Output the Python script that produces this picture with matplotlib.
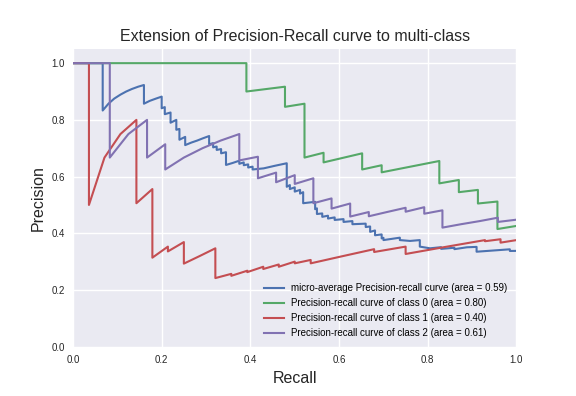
import matplotlib
matplotlib.use('Agg')
import matplotlib.pyplot as plt

# micro-average curve (recall, precision)
micro_recall = [0.0, 0.067, 0.067, 0.08, 0.093, 0.107, 0.12, 0.133, 0.147, 0.16, 0.16, 0.173, 0.187, 0.2,
                0.2, 0.207, 0.207, 0.22, 0.22, 0.233, 0.233, 0.24, 0.24, 0.253, 0.253, 0.267, 0.28, 0.293, 0.307,
                0.307, 0.316, 0.316, 0.324, 0.324, 0.334, 0.334, 0.345, 0.345, 0.36, 0.375,
                0.375, 0.385, 0.385, 0.395, 0.395, 0.405, 0.405, 0.43, 0.455, 0.482,
                0.482, 0.489, 0.489, 0.50, 0.50, 0.512, 0.512, 0.519, 0.519, 0.546, 0.546, 0.55, 0.55,
                0.562, 0.562, 0.575, 0.575, 0.59, 0.59, 0.61, 0.61, 0.63, 0.63, 0.66, 0.66, 0.67, 0.67,
                0.681, 0.681, 0.696, 0.696, 0.70, 0.70, 0.737, 0.737, 0.76, 0.782, 0.782, 0.805, 0.83, 0.83,
                0.86, 0.86, 0.888, 0.91, 0.91, 0.985, 0.985, 1.0]
micro_precision = [1.0, 1.0, 0.833, 0.857, 0.875, 0.889, 0.90, 0.909, 0.917, 0.923, 0.857, 0.867, 0.875, 0.882,
                   0.841, 0.845, 0.82, 0.826, 0.79, 0.80, 0.765, 0.768, 0.73, 0.74, 0.711, 0.72, 0.727, 0.735, 0.743,
                   0.714, 0.718, 0.703, 0.706, 0.694, 0.697, 0.682, 0.686, 0.641, 0.648, 0.656,
                   0.645, 0.65, 0.64, 0.643, 0.632, 0.635, 0.625, 0.629, 0.638, 0.647,
                   0.564, 0.570, 0.556, 0.562, 0.547, 0.553, 0.540, 0.545, 0.506, 0.511, 0.485, 0.488, 0.468,
                   0.47, 0.458, 0.462, 0.452, 0.456, 0.447, 0.45, 0.44, 0.443, 0.432, 0.434, 0.422, 0.424, 0.405,
                   0.41, 0.393, 0.396, 0.382, 0.384, 0.376, 0.3845, 0.376, 0.373, 0.376, 0.353, 0.347, 0.351, 0.345,
                   0.349, 0.344, 0.3506, 0.352, 0.335, 0.3435, 0.3376, 0.338]

# class 0
c0_recall = [0.0, 0.391, 0.391, 0.478, 0.478, 0.522, 0.522, 0.565, 0.565, 0.652, 0.652, 0.696, 0.696,
             0.826, 0.826, 0.870, 0.870, 0.913, 0.913, 0.957, 0.957, 1.0]
c0_precision = [1.0, 1.0, 0.90, 0.917, 0.846, 0.857, 0.667, 0.684, 0.65, 0.682, 0.625, 0.64, 0.615,
                0.655, 0.576, 0.588, 0.545, 0.553, 0.505, 0.512, 0.415, 0.426]

# class 1
c1_recall = [0.0, 0.036, 0.036, 0.071, 0.107, 0.143, 0.143, 0.179, 0.179, 0.214, 0.214, 0.25, 0.25,
             0.286, 0.321, 0.321, 0.357, 0.357, 0.393, 0.393, 0.429, 0.429, 0.464, 0.464, 0.5, 0.5,
             0.536, 0.536, 0.607, 0.679, 0.679, 0.75, 0.75, 0.84, 0.929, 0.929, 0.964, 0.964, 1.0]
c1_precision = [1.0, 1.0, 0.5, 0.667, 0.75, 0.80, 0.506, 0.556, 0.314, 0.353, 0.336, 0.369, 0.293,
                0.32, 0.347, 0.242, 0.257, 0.250, 0.268, 0.263, 0.282, 0.274, 0.29, 0.282, 0.30, 0.294,
                0.306, 0.294, 0.319, 0.344, 0.334, 0.353, 0.327, 0.352, 0.376, 0.372, 0.379, 0.367, 0.376]

# class 2
c2_recall = [0.0, 0.083, 0.083, 0.125, 0.167, 0.167, 0.208, 0.208, 0.25, 0.292, 0.333, 0.375, 0.375,
             0.417, 0.417, 0.458, 0.458, 0.5, 0.5, 0.542, 0.542, 0.583, 0.583, 0.625, 0.625, 0.667, 0.667,
             0.708, 0.75, 0.75, 0.792, 0.792, 0.833, 0.833, 0.875, 0.917, 0.958, 0.958, 1.0]
c2_precision = [1.0, 1.0, 0.667, 0.75, 0.80, 0.667, 0.714, 0.625, 0.667, 0.70, 0.727, 0.75, 0.657,
                0.670, 0.594, 0.614, 0.580, 0.605, 0.574, 0.594, 0.506, 0.523, 0.487, 0.505, 0.459, 0.475, 0.460,
                0.475, 0.49, 0.476, 0.492, 0.469, 0.481, 0.420, 0.432, 0.443, 0.455, 0.440, 0.448]

labels = ['micro-average Precision-recall curve (area = 0.59)',
          'Precision-recall curve of class 0 (area = 0.80)',
          'Precision-recall curve of class 1 (area = 0.40)',
          'Precision-recall curve of class 2 (area = 0.61)']
colors = ['#4C72B0', '#55A868', '#C44E52', '#8172B2']

plt.rcParams['font.family'] = ['Liberation Sans', 'DejaVu Sans']

fig = plt.figure(figsize=(5.76, 3.96), dpi=100)
ax = fig.add_axes([0.1267, 0.1245, 0.77, 0.7518])
ax.set_facecolor('#EAEAF2')
ax.grid(True, color='white', linewidth=1)
ax.set_axisbelow(True)
for s in ax.spines.values():
    s.set_visible(False)

curves = [(micro_recall, micro_precision), (c0_recall, c0_precision),
          (c1_recall, c1_precision), (c2_recall, c2_precision)]
for (r, p), lab, col in zip(curves, labels, colors):
    ax.plot(r, p, color=col, lw=1.5, label=lab)

ax.set_xlim(0.0, 1.0)
ax.set_ylim(0.0, 1.05)
ax.set_xticks([0.0, 0.2, 0.4, 0.6, 0.8, 1.0])
ax.set_yticks([0.0, 0.2, 0.4, 0.6, 0.8, 1.0])
ax.tick_params(length=0, labelsize=7, colors='#262626', pad=6)
ax.set_xlabel('Recall', fontsize=11.5, color='#262626')
ax.set_ylabel('Precision', fontsize=11.5, color='#262626')
ax.set_title('Extension of Precision-Recall curve to multi-class', fontsize=11.5, color='#262626')
ax.legend(loc='lower right', fontsize=7, frameon=False)

fig.savefig('out.png', dpi=100)
